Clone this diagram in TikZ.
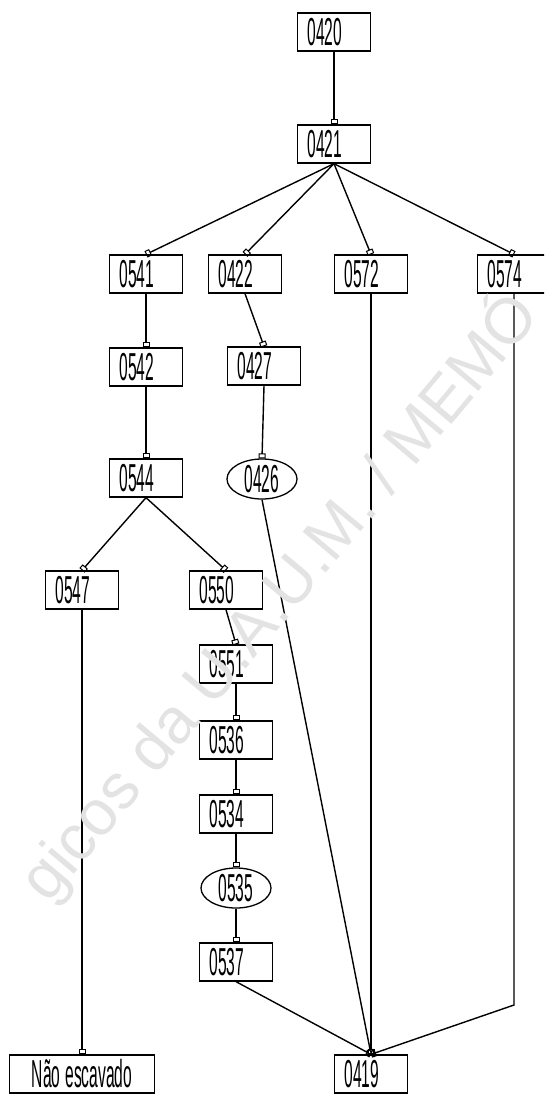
\documentclass[tikz,border=0pt]{standalone}
\usepackage{fontspec}
\setmainfont{Liberation Sans}
\newfontfamily\narrowfont[FakeStretch=0.4]{Liberation Sans}
\usetikzlibrary{arrows.meta,shapes.geometric}

\begin{document}
\begin{tikzpicture}[x=1pt,y=-1pt,
  every node/.style={font=\narrowfont\fontsize{39}{39}\selectfont},
  unitbox/.style={rectangle,draw,line width=1.3pt,minimum height=38pt,
    text width=53pt,inner xsep=10pt,inner ysep=0pt,align=left},
  unitoval/.style={ellipse,draw,line width=1.3pt,minimum width=70pt,
    minimum height=40pt,inner sep=0pt},
  seqarrow/.style={-{Square[open,length=5pt,width=7pt,line width=1pt]},line width=1.4pt},
  watermark/.style={font=\rmfamily\fontsize{64}{64}\selectfont,text=gray!22,
    rotate=50,anchor=base west,inner sep=0pt},
]
\clip (0,0) rectangle (544,1095);

% ---------- Top of the sequence ----------
\node[unitbox] (U420) at (334,32) {0420};
\node[unitbox] (U421) at (334,144) {0421};

% ---------- First row under 0421 ----------
\node[unitbox] (U541) at (146,274) {0541};
\node[unitbox] (U422) at (245,274) {0422};
\node[unitbox] (U572) at (371,274) {0572};
\node[unitbox] (U574) at (514,274) {0574};

% ---------- Left branches ----------
\node[unitbox]  (U542) at (146,367) {0542};
\node[unitbox]  (U427) at (264,366) {0427};
\node[unitbox]  (U544) at (146,478) {0544};
\node[unitoval] (U426) at (262,479) {0426};
\node[unitbox]  (U547) at (82,590) {0547};
\node[unitbox]  (U550) at (226,590) {0550};

% ---------- Column under 0550 ----------
\node[unitbox]  (U551) at (236,664) {0551};
\node[unitbox]  (U536) at (236,740) {0536};
\node[unitbox]  (U534) at (236,814) {0534};
\node[unitoval] (U535) at (236,888) {0535};
\node[unitbox]  (U537) at (236,962) {0537};

% ---------- Bottom ----------
\node[unitbox,text width=125pt,align=center] (NE) at (82,1074) {Não\kern5pt escavado};
\node[unitbox] (U419) at (371,1074) {0419};
\coordinate (B574) at (514,1005);

% ---------- Connectors ----------
\draw[seqarrow] (U420.south) -- (U421.north);
\draw[seqarrow] (U421.south) -- (U541.north);
\draw[seqarrow] (U421.south) -- (U422.north);
\draw[seqarrow] (U421.south) -- (U572.north);
\draw[seqarrow] (U421.south) -- (U574.north);
\draw[seqarrow] (U541.south) -- (U542.north);
\draw[seqarrow] (U542.south) -- (U544.north);
\draw[seqarrow] (U422.south) -- (U427.north);
\draw[seqarrow] (U427.south) -- (U426.north);
\draw[seqarrow] (U544.south) -- (U547.north);
\draw[seqarrow] (U544.south) -- (U550.north);
\draw[seqarrow] (U550.south) -- (U551.north);
\draw[seqarrow] (U551.south) -- (U536.north);
\draw[seqarrow] (U536.south) -- (U534.north);
\draw[seqarrow] (U534.south) -- (U535.north);
\draw[seqarrow] (U535.south) -- (U537.north);
\draw[seqarrow] (U547.south) -- (NE.north);
\draw[seqarrow] (U537.south) -- (U419.north);
\draw[seqarrow] (U426.south) -- (U419.north);
\draw[seqarrow] (U572.south) -- (U419.north);
\draw[seqarrow] (U574.south) -- (B574) -- (U419.north);

% ---------- Watermark ----------
\node[watermark] (WM) at (48,905) {gicos da U.A.U.M. / MEMÓ};

\end{tikzpicture}
\end{document}
